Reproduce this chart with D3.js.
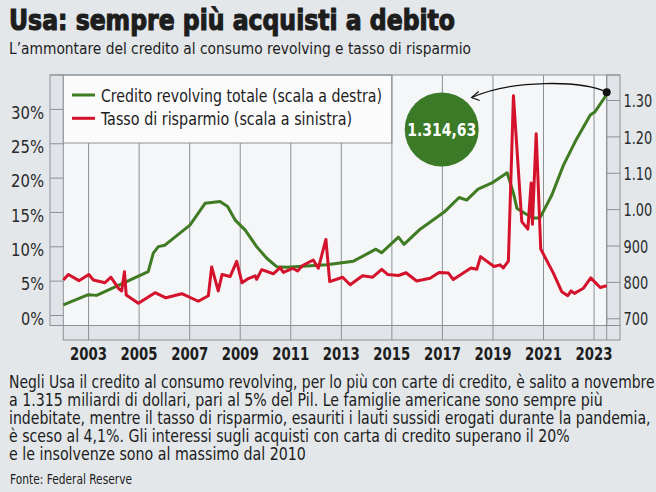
<!DOCTYPE html>
<html lang="it">
<head>
<meta charset="UTF-8">
<title>Usa: sempre più acquisti a debito</title>
<script src="https://d3js.org/d3.v7.min.js"></script>
<style>
  html, body { margin: 0; padding: 0; background: #e3e7ea; }
  svg { display: block; }
  .cond { font-family: "Liberation Sans Narrow", "DejaVu Sans Condensed", "Roboto", sans-serif; }
</style>
</head>
<body>
<svg id="chart" width="656" height="492"></svg>
<script>
// Credito revolving totale (miliardi di dollari, scala a destra)
const creditYears = [2002.00, 2002.99, 2003.32, 2005.36, 2005.56, 2005.76, 2006.02, 2007.01, 2007.61, 2008.20,
  2008.50, 2008.81, 2009.19, 2009.65, 2010.05, 2010.44, 2010.84, 2012.42, 2013.48, 2014.37,
  2014.59, 2015.26, 2015.48, 2016.12, 2017.07, 2017.66, 2017.96, 2018.41, 2018.96, 2019.56,
  2019.81, 2019.95, 2020.27, 2020.59, 2020.86, 2021.33, 2021.79, 2022.25, 2022.85, 2023.04,
  2023.44, 2023.50];
const creditValues = [737, 765, 763, 828, 879, 897, 901, 956, 1016, 1021,
  1007, 969, 943, 897, 865, 842, 840, 847, 857, 890,
  880, 923, 903, 945, 992, 1032, 1025, 1055, 1072, 1100,
  1044, 1002, 988, 976, 976, 1039, 1121, 1185, 1259, 1268,
  1309, 1314.63];

// Tasso di risparmio (%, scala a sinistra)
const savingYears = [2002.00, 2002.20, 2002.62, 2003.01, 2003.19, 2003.65, 2003.88, 2004.20, 2004.31, 2004.42,
  2004.49, 2004.97, 2005.63, 2006.06, 2006.69, 2007.34, 2007.74, 2007.87, 2008.13, 2008.28,
  2008.60, 2008.86, 2009.07, 2009.32, 2009.59, 2009.65, 2009.85, 2010.31, 2010.58, 2010.71,
  2011.07, 2011.27, 2011.47, 2011.89, 2012.09, 2012.39, 2012.54, 2013.05, 2013.35, 2013.84,
  2014.24, 2014.60, 2014.83, 2015.26, 2015.56, 2015.98, 2016.51, 2016.87, 2017.24, 2017.43,
  2018.13, 2018.36, 2018.51, 2019.04, 2019.28, 2019.41, 2019.61, 2019.81, 2020.14, 2020.38,
  2020.51, 2020.56, 2020.71, 2020.89, 2021.39, 2021.72, 2021.96, 2022.09, 2022.22, 2022.58,
  2022.87, 2023.24, 2023.50];
const savingRates = [5.1, 5.9, 5.0, 5.9, 5.1, 4.7, 5.5, 3.8, 3.5, 6.3,
  2.9, 1.7, 3.25, 2.5, 3.1, 2.0, 2.8, 7.0, 3.5, 5.9,
  5.6, 7.8, 4.7, 5.3, 5.7, 5.2, 6.6, 6.0, 6.9, 6.2,
  6.8, 6.4, 7.2, 8.0, 6.8, 11.0, 4.85, 5.5, 4.4, 5.7,
  5.5, 6.65, 5.9, 5.75, 6.15, 4.95, 5.35, 6.2, 6.1, 5.15,
  6.85, 6.65, 8.5, 7.05, 7.3, 6.85, 7.85, 31.9, 13.6, 12.5,
  19.2, 13.2, 26.4, 9.6, 6.1, 3.4, 2.8, 3.5, 3.15, 3.9,
  5.4, 4.0, 4.25];

const yearTicks = [2003, 2005, 2007, 2009, 2011, 2013, 2015, 2017, 2019, 2021, 2023];
const leftTicks = [0, 5, 10, 15, 20, 25, 30];
const rightTicks = [700, 800, 900, 1000, 1100, 1200, 1300];
const rightTickLabels = ["700", "800", "900", "1.00", "1.10", "1.20", "1.30"];

const paragraph = [
  "Negli Usa il credito al consumo revolving, per lo più con carte di credito, è salito a novembre",
  "a 1.315 miliardi di dollari, pari al 5% del Pil. Le famiglie americane sono sempre più",
  "indebitate, mentre il tasso di risparmio, esauriti i lauti sussidi erogati durante la pandemia,",
  "è sceso al 4,1%. Gli interessi sugli acquisti con carta di credito superano il 20%",
  "e le insolvenze sono al massimo dal 2010"
];
const paragraphWidths = [646, 594, 642, 561, 297];

const svg = d3.select('#chart');
const green = '#3f7b22';
const red = '#d5122b';
const ink = '#1d1d1d';

const plot = { left: 63.3, right: 606.7, top: 75, bottom: 325.5 };

const x = d3.scaleLinear().domain([2002, 2023.5]).range([plot.left, plot.right]);
const yLeft = d3.scaleLinear().domain([0, 30]).range([315, 108.9]);
const yRight = d3.scaleLinear().domain([700, 1300]).range([318.3, 100]);

// title
svg.append('text')
  .attr('x', 9).attr('y', 29.5)
  .attr('class', 'cond')
  .attr('font-size', 28).attr('font-weight', 900)
  .attr('fill', ink).attr('stroke', ink).attr('stroke-width', 1.1)
  .attr('textLength', 446).attr('lengthAdjust', 'spacingAndGlyphs')
  .text('Usa: sempre più acquisti a debito');

svg.append('text')
  .attr('x', 9).attr('y', 54)
  .attr('class', 'cond')
  .attr('font-size', 16)
  .attr('fill', ink)
  .attr('textLength', 462).attr('lengthAdjust', 'spacingAndGlyphs')
  .text('L\u2019ammontare del credito al consumo revolving e tasso di risparmio');

// panels
const frame = '#8c9196';
svg.append('rect')
  .attr('x', plot.left).attr('y', plot.top)
  .attr('width', plot.right - plot.left).attr('height', plot.bottom - plot.top)
  .attr('fill', '#f5f6f8');

// left gutter
svg.append('rect')
  .attr('x', 50).attr('y', plot.top)
  .attr('width', plot.left - 50).attr('height', plot.bottom - plot.top)
  .attr('fill', '#e0e4e8').attr('stroke', frame).attr('stroke-width', 1);
// right gutter
svg.append('rect')
  .attr('x', plot.right).attr('y', plot.top)
  .attr('width', 620 - plot.right).attr('height', plot.bottom - plot.top)
  .attr('fill', '#e0e4e8').attr('stroke', frame).attr('stroke-width', 1);
// bottom gutter
svg.append('rect')
  .attr('x', plot.left).attr('y', plot.bottom)
  .attr('width', 620 - plot.left).attr('height', 340 - plot.bottom)
  .attr('fill', '#e0e4e8').attr('stroke', frame).attr('stroke-width', 1);

// legend box
const legendRight = x(2015);
const legendBottom = 143;
svg.append('rect')
  .attr('x', plot.left).attr('y', plot.top)
  .attr('width', legendRight - plot.left).attr('height', legendBottom - plot.top)
  .attr('fill', '#fbfbfc').attr('stroke', frame).attr('stroke-width', 1);

// vertical gridlines
svg.append('g')
  .selectAll('line')
  .data(yearTicks)
  .enter().append('line')
  .attr('x1', d => x(d)).attr('x2', d => x(d))
  .attr('y1', d => x(d) < legendRight - 1 ? legendBottom : plot.top)
  .attr('y2', 340)
  .attr('stroke', frame).attr('stroke-width', 1);

svg.append('line')
  .attr('x1', plot.right).attr('x2', plot.right)
  .attr('y1', plot.top).attr('y2', 340)
  .attr('stroke', frame).attr('stroke-width', 1);

svg.append('line')
  .attr('x1', 50).attr('x2', 620)
  .attr('y1', plot.top).attr('y2', plot.top)
  .attr('stroke', frame).attr('stroke-width', 1);

// left axis
const leftAxis = svg.append('g')
  .attr('transform', `translate(${plot.left},0)`)
  .call(d3.axisLeft(yLeft).tickValues(leftTicks).tickSize(plot.left - 50).tickPadding(6).tickFormat(d => d + '%'));
leftAxis.select('.domain').remove();
leftAxis.selectAll('line').attr('stroke', frame);
leftAxis.selectAll('text')
  .attr('class', 'cond')
  .attr('font-size', 18.5).attr('fill', '#2a2a2a')
  .attr('dy', '0.5em')
  .attr('textLength', d => (d + '%').length === 3 ? 33 : 23)
  .attr('lengthAdjust', 'spacingAndGlyphs');

// right axis (labels squeezed horizontally like the condensed original)
const rightPad = 620 - plot.right + 3.5;
const rightAxis = svg.append('g')
  .attr('transform', `translate(${plot.right},0)`)
  .call(d3.axisRight(yRight).tickValues(rightTicks).tickSize(620 - plot.right).tickPadding(3.5)
    .tickFormat((d, i) => rightTickLabels[i]));
rightAxis.select('.domain').remove();
rightAxis.selectAll('line').attr('stroke', frame);
rightAxis.selectAll('text')
  .attr('class', 'cond')
  .attr('font-size', 17.5).attr('fill', '#2a2a2a')
  .attr('dy', '0.38em')
  .attr('x', null)
  .attr('transform', `translate(${rightPad},0) scale(0.82,1)`);

// year labels
svg.append('g')
  .selectAll('text')
  .data(yearTicks)
  .enter().append('text')
  .attr('class', 'cond')
  .attr('x', d => x(d)).attr('y', 359.5)
  .attr('text-anchor', 'middle')
  .attr('font-size', 17.5).attr('font-weight', 700)
  .attr('fill', ink)
  .attr('textLength', 37).attr('lengthAdjust', 'spacingAndGlyphs')
  .text(d => d);

// series
const creditLine = d3.line()
  .x((d, i) => x(creditYears[i]))
  .y(d => yRight(d));
const savingLine = d3.line()
  .x((d, i) => x(savingYears[i]))
  .y(d => yLeft(d));

svg.append('path')
  .datum(creditValues)
  .attr('d', creditLine)
  .attr('fill', 'none').attr('stroke', green).attr('stroke-width', 3)
  .attr('stroke-linejoin', 'round');

svg.append('path')
  .datum(savingRates)
  .attr('d', savingLine)
  .attr('fill', 'none').attr('stroke', red).attr('stroke-width', 3)
  .attr('stroke-linejoin', 'round');

// legend entries
const legendItems = [
  { label: 'Credito revolving totale (scala a destra)', color: green, y: 95, w: 281 },
  { label: 'Tasso di risparmio (scala a sinistra)', color: red, y: 118.3, w: 251 }
];
const lg = svg.append('g');
lg.selectAll('line')
  .data(legendItems)
  .enter().append('line')
  .attr('x1', 72).attr('x2', 95)
  .attr('y1', d => d.y).attr('y2', d => d.y)
  .attr('stroke', d => d.color).attr('stroke-width', 3);
lg.selectAll('text')
  .data(legendItems)
  .enter().append('text')
  .attr('class', 'cond')
  .attr('x', 101).attr('y', d => d.y + 6.7)
  .attr('font-size', 18).attr('fill', ink)
  .attr('textLength', d => d.w).attr('lengthAdjust', 'spacingAndGlyphs')
  .text(d => d.label);

// annotation: last value
const lastX = x(creditYears[creditYears.length - 1]);
const lastY = yRight(creditValues[creditValues.length - 1]) - 2.5;
const bubble = { cx: 441.7, cy: 129.5, r: 37 };

svg.append('circle')
  .attr('cx', bubble.cx).attr('cy', bubble.cy).attr('r', bubble.r)
  .attr('fill', '#3b7a27');
svg.append('text')
  .attr('class', 'cond')
  .attr('x', bubble.cx).attr('y', bubble.cy + 6.5)
  .attr('text-anchor', 'middle')
  .attr('font-size', 18.5).attr('font-weight', 700)
  .attr('fill', '#ffffff')
  .attr('textLength', 69).attr('lengthAdjust', 'spacingAndGlyphs')
  .text('1.314,63');

const tipX = bubble.cx + 30, tipY = bubble.cy - 32;
svg.append('path')
  .attr('d', `M${lastX},${lastY} C${lastX - 25},${lastY - 12} ${tipX + 40},${tipY - 18} ${tipX},${tipY}`)
  .attr('fill', 'none').attr('stroke', '#111').attr('stroke-width', 1.3);
svg.append('path')
  .attr('d', `M${tipX + 7},${tipY - 6} L${tipX},${tipY} L${tipX + 8},${tipY + 3}`)
  .attr('fill', 'none').attr('stroke', '#111').attr('stroke-width', 1.3);
svg.append('circle')
  .attr('cx', lastX).attr('cy', lastY).attr('r', 4)
  .attr('fill', '#111');

// paragraph: each line squeezed to the width it has in the original
svg.append('g')
  .selectAll('text')
  .data(paragraph)
  .enter().append('text')
  .attr('class', 'cond')
  .attr('font-size', 18.5).attr('fill', ink)
  .text(d => d)
  .each(function (d, i) {
    const natural = this.getComputedTextLength();
    const sx = paragraphWidths[i] / natural;
    d3.select(this).attr('transform', `translate(9,${387.5 + i * 18.2}) scale(${sx},1)`);
  });

svg.append('text')
  .attr('class', 'cond')
  .attr('x', 10).attr('y', 484)
  .attr('font-size', 14.5).attr('fill', ink)
  .attr('textLength', 122).attr('lengthAdjust', 'spacingAndGlyphs')
  .text('Fonte: Federal Reserve');
</script>
</body>
</html>
